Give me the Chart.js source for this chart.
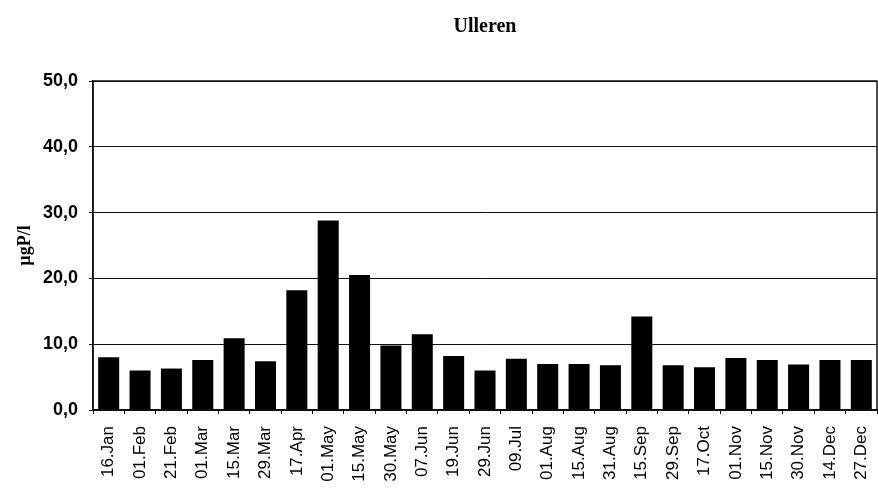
<!DOCTYPE html>
<html>
<head>
<meta charset="utf-8">
<script src="https://cdn.jsdelivr.net/npm/chart.js@4/dist/chart.umd.min.js"></script>
<style>
  html, body { margin: 0; padding: 0; background: #fff; }
  #wrap { width: 878px; height: 490px; }
</style>
</head>
<body>
<div id="wrap"><canvas id="chart" width="878" height="490"></canvas></div>
<script>
"use strict";

// Sampling dates and total phosphorus (µgP/l)
const dates = ['16.Jan', '01.Feb', '21.Feb', '01.Mar', '15.Mar', '29.Mar', '17.Apr', '01.May',
    '15.May', '30.May', '07.Jun', '19.Jun', '29.Jun', '09.Jul', '01.Aug', '15.Aug', '31.Aug',
    '15.Sep', '29.Sep', '17.Oct', '01.Nov', '15.Nov', '30.Nov', '14.Dec', '27.Dec'];
const totP = [8.0, 6.0, 6.3, 7.6, 10.9, 7.4, 18.2, 28.8, 20.5, 9.8, 11.5, 8.2, 6.0,
    7.8, 7.0, 7.0, 6.8, 14.2, 6.8, 6.5, 7.9, 7.6, 6.9, 7.6, 7.6];
const yTicks = [0, 10, 20, 30, 40, 50];

// frame round the plot area
const frame = {
    id: 'frame',
    afterDraw(chart) {
        const {ctx, chartArea: a} = chart;
        ctx.save();
        ctx.strokeStyle = '#111';
        ctx.lineWidth = 1.5;
        ctx.strokeRect(a.left, a.top, a.right - a.left, a.bottom - a.top);
        ctx.restore();
    }
};

const ctx = document.getElementById('chart').getContext('2d');
new Chart(ctx, {
    type: 'bar',
    data: {
        labels: dates,
        datasets: [{
            data: totP,
            backgroundColor: '#000',
            borderWidth: 0,
            categoryPercentage: 1,
            barPercentage: 0.67
        }]
    },
    options: {
        responsive: false,
        animation: false,
        layout: { padding: { right: 1 } },
        plugins: {
            legend: { display: false },
            tooltip: { enabled: false },
            title: {
                display: true,
                text: 'Ulleren',
                fullSize: false,
                color: '#000',
                font: { family: '"Liberation Serif", "Times New Roman", serif', size: 20, weight: 'bold' },
                padding: { top: 15, bottom: 42 }
            }
        },
        scales: {
            x: {
                grid: { display: true, drawOnChartArea: false, drawTicks: true, tickLength: 4, color: '#111', offset: true },
                border: { color: '#111', width: 1.5 },
                ticks: {
                    color: '#000',
                    minRotation: 90,
                    maxRotation: 90,
                    autoSkip: false,
                    padding: 12,
                    font: { family: '"Liberation Sans", Arial, sans-serif', size: 17 }
                },
                afterFit: (s) => {
                    s.height = 80;
                    s.paddingLeft = 0;
                    s.paddingRight = 0;
                }
            },
            y: {
                min: 0,
                max: 50,
                afterBuildTicks: (s) => { s.ticks = yTicks.map(v => ({ value: v })); },
                grid: { color: '#111', lineWidth: 1, tickLength: 4 },
                border: { color: '#111', width: 1.5 },
                ticks: {
                    color: '#000',
                    padding: 11,
                    font: { family: '"Liberation Sans", Arial, sans-serif', size: 18, weight: 'bold' },
                    callback: (v) => v.toFixed(1).replace('.', ',')
                },
                title: {
                    display: true,
                    text: 'µgP/l',
                    color: '#000',
                    font: { family: '"Liberation Serif", "Times New Roman", serif', size: 18, weight: 'bold' },
                    padding: { top: 15, bottom: 0 }
                },
                afterFit: (s) => {
                    s.width = 93;
                    s.paddingTop = 0;
                    s.paddingBottom = 0;
                }
            }
        }
    },
    plugins: [frame]
});
</script>
</body>
</html>
